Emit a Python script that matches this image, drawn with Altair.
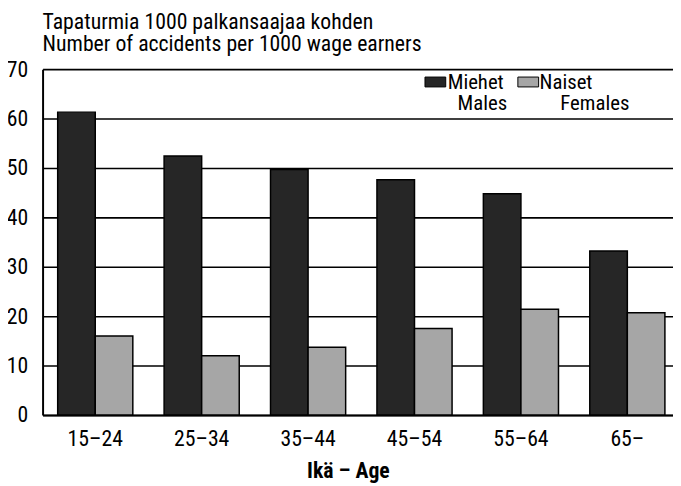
import altair as alt
import pandas as pd

ages = ["15–24", "25–34", "35–44", "45–54", "55–64", "65–"]
males = [61.3, 52.4, 49.7, 47.6, 44.8, 33.2]
females = [16.0, 12.0, 13.7, 17.5, 21.4, 20.7]
series = ["Miehet", "Naiset"]
series_en = ["Males", "Females"]
y_ticks = [0, 10, 20, 30, 40, 50, 60, 70]
colors = ["#262626", "#a6a6a6"]

FONT = "Noto Sans Condensed, Roboto Condensed, Liberation Sans Narrow, Arial Narrow, Roboto, sans-serif"

rows = []
for a, m, f in zip(ages, males, females):
    rows.append({"age": a, "sex": series[0], "value": m})
    rows.append({"age": a, "sex": series[1], "value": f})
df = pd.DataFrame(rows)

color_scale = alt.Scale(domain=series, range=colors)

bars = alt.Chart(df).mark_bar(stroke="black", strokeWidth=1.5).encode(
    x=alt.X(
        "age:N",
        sort=ages,
        scale=alt.Scale(paddingInner=0.294, paddingOuter=0.109, align=0.651),
        axis=alt.Axis(
            title="Ikä – Age",
            labelAngle=0,
            ticks=False,
            domain=True,
            domainColor="black",
            domainWidth=2,
            labelFontSize=22,
            labelPadding=14,
            titleFontSize=22,
            titleFontWeight="bold",
            titleX=309,
            titleY=63,
            titleAlign="center",
            titleBaseline="alphabetic",
        ),
    ),
    xOffset=alt.XOffset("sex:N", sort=series, scale=alt.Scale(paddingInner=0, paddingOuter=0)),
    y=alt.Y(
        "value:Q",
        scale=alt.Scale(domain=[0, 70], nice=False),
        axis=alt.Axis(
            values=y_ticks,
            grid=True,
            gridColor="black",
            gridWidth=1.6,
            gridOpacity=1,
            ticks=False,
            domain=True,
            domainColor="black",
            domainWidth=2,
            labelFontSize=22,
            labelPadding=15,
            title=None,
        ),
    ),
    color=alt.Color("sex:N", scale=color_scale, legend=None),
)

layers = [bars]
leg_sq_x = [387, 481]
leg_t1_x = [410, 503]
leg_t2_x = [420, 524]
for i in range(2):
    ldf = pd.DataFrame({"sex": [series[i]], "l1": [series[i]], "l2": [series_en[i]]})
    base = alt.Chart(ldf)
    sq = base.mark_rect(stroke="black", strokeWidth=1).encode(
        x=alt.value(leg_sq_x[i]), x2=alt.value(leg_sq_x[i] + 21),
        y=alt.value(8), y2=alt.value(18),
        color=alt.Color("sex:N", scale=color_scale, legend=None),
    )
    t1 = base.mark_text(align="left", baseline="alphabetic", fontSize=21, font=FONT, color="black").encode(
        x=alt.value(leg_t1_x[i]), y=alt.value(20), text="l1:N"
    )
    t2 = base.mark_text(align="left", baseline="alphabetic", fontSize=21, font=FONT, color="black").encode(
        x=alt.value(leg_t2_x[i]), y=alt.value(41), text="l2:N"
    )
    layers += [sq, t1, t2]

chart = alt.layer(*layers).properties(
    width=638,
    height=350,
    autosize=alt.AutoSizeParams(type="none"),
    padding={"left": 35, "top": 59, "right": 0, "bottom": 70},
    title=alt.TitleParams(
        ["Tapaturmia 1000 palkansaajaa kohden", "Number of accidents per 1000 wage earners"],
        anchor="start",
        frame="group",
        fontSize=22,
        fontWeight="normal",
        font=FONT,
        lineHeight=23,
        baseline="alphabetic",
        offset=8,
        dy=23,
        color="black",
    ),
).configure_view(stroke=None).configure_axis(
    labelFont=FONT, titleFont=FONT, labelColor="black", titleColor="black"
)

chart.save("out.html", embed_options={"renderer": "svg", "actions": False})
